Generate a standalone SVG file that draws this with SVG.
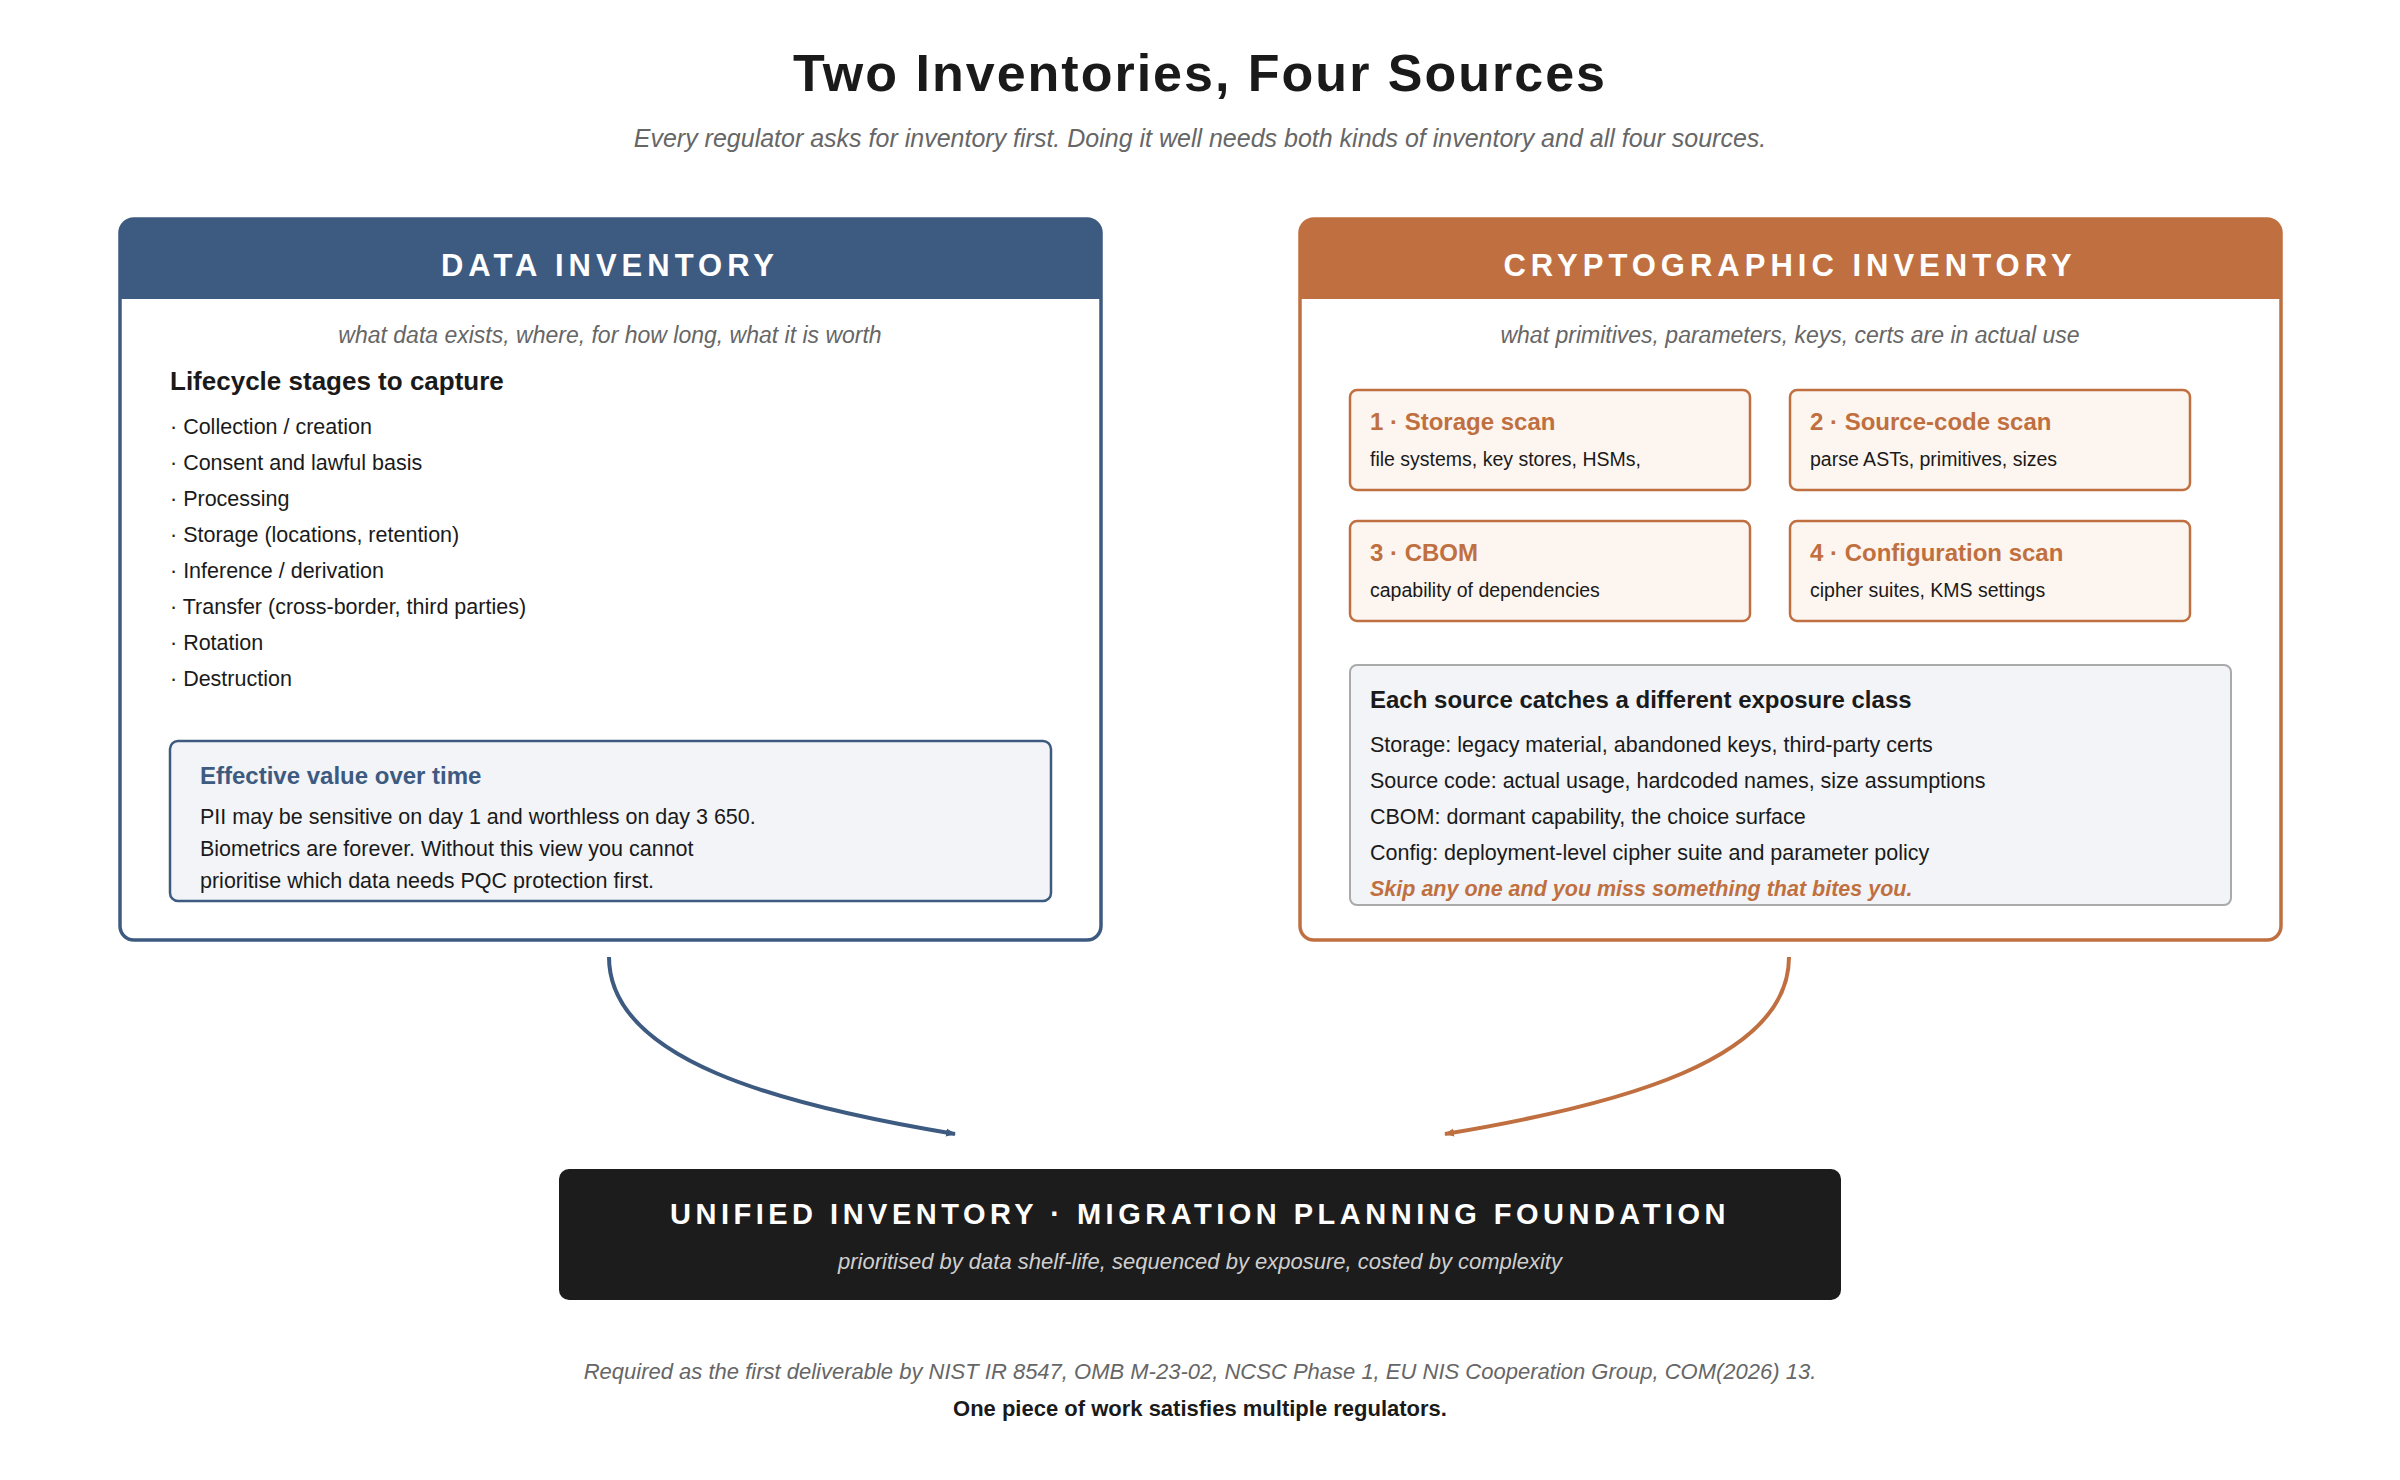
<svg xmlns="http://www.w3.org/2000/svg" width="2400" height="1480" viewBox="0 0 2400 1480">
<style>
text{font-family:"Liberation Sans",Arial,sans-serif}
.ti{font-size:52px;font-weight:bold;fill:#1a1a1a;letter-spacing:2px}
.sub{font-size:25px;font-style:italic;fill:#666}
.hd{font-size:31px;font-weight:bold;fill:#fff;letter-spacing:5px}
.psub{font-size:23px;font-style:italic;fill:#666}
.h2{font-size:26px;font-weight:bold;fill:#1a1a1a}
.li{font-size:21.5px;fill:#1a1a1a}
.bt{font-size:24px;font-weight:bold}
.st{font-size:19.5px;fill:#1a1a1a}
.srcbox{fill:#fdf5ef;stroke:#c07040;stroke-width:2.5}
.ln{fill:none;stroke-width:4}
</style>
<defs>
<marker id="ab" markerWidth="10" markerHeight="10" refX="9" refY="5" orient="auto" markerUnits="userSpaceOnUse" viewBox="0 0 10 10"><path d="M0,1 L10,5 L0,9 z" fill="#3d5a80"/></marker>
<marker id="ao" markerWidth="10" markerHeight="10" refX="9" refY="5" orient="auto" markerUnits="userSpaceOnUse" viewBox="0 0 10 10"><path d="M0,1 L10,5 L0,9 z" fill="#c07040"/></marker>
</defs>
<rect width="2400" height="1480" fill="#fff"/>
<text class="ti" x="1200" y="91" text-anchor="middle">Two Inventories, Four Sources</text>
<text class="sub" x="1200" y="147" text-anchor="middle">Every regulator asks for inventory first. Doing it well needs both kinds of inventory and all four sources.</text>

<g id="data-inventory">
<rect x="120" y="219" width="981" height="721" rx="14" fill="#fff" stroke="#3d5a80" stroke-width="3.5"/>
<path d="M120,299 V233 a14,14 0 0 1 14,-14 H1087 a14,14 0 0 1 14,14 V299 z" fill="#3d5a80"/>
<text class="hd" x="610" y="276" text-anchor="middle">DATA INVENTORY</text>
<text class="psub" x="610" y="343" text-anchor="middle">what data exists, where, for how long, what it is worth</text>
<text class="h2" x="170" y="390">Lifecycle stages to capture</text>
<text class="li" x="170" y="434">· Collection / creation</text>
<text class="li" x="170" y="470">· Consent and lawful basis</text>
<text class="li" x="170" y="506">· Processing</text>
<text class="li" x="170" y="542">· Storage (locations, retention)</text>
<text class="li" x="170" y="578">· Inference / derivation</text>
<text class="li" x="170" y="614">· Transfer (cross-border, third parties)</text>
<text class="li" x="170" y="650">· Rotation</text>
<text class="li" x="170" y="686">· Destruction</text>
</g>
<g id="effective-value">
<rect x="170" y="741" width="881" height="160" rx="8" fill="#f2f4f7" stroke="#3d5a80" stroke-width="2.5"/>
<text class="bt" x="200" y="784" fill="#3d5a80">Effective value over time</text>
<text class="li" x="200" y="824">PII may be sensitive on day 1 and worthless on day 3 650.</text>
<text class="li" x="200" y="856">Biometrics are forever. Without this view you cannot</text>
<text class="li" x="200" y="888">prioritise which data needs PQC protection first.</text>
</g>

<g id="crypto-inventory">
<rect x="1300" y="219" width="981" height="721" rx="14" fill="#fff" stroke="#c07040" stroke-width="3.5"/>
<path d="M1300,299 V233 a14,14 0 0 1 14,-14 H2267 a14,14 0 0 1 14,14 V299 z" fill="#c07040"/>
<text class="hd" x="1790" y="276" text-anchor="middle">CRYPTOGRAPHIC INVENTORY</text>
<text class="psub" x="1790" y="343" text-anchor="middle">what primitives, parameters, keys, certs are in actual use</text>
</g>
<g id="storage-scan">
<rect class="srcbox" x="1350" y="390" width="400" height="100" rx="7"/>
<text class="bt" x="1370" y="430" fill="#c07040">1 · Storage scan</text>
<text class="st" x="1370" y="466">file systems, key stores, HSMs,</text>
</g>
<g id="source-code-scan">
<rect class="srcbox" x="1790" y="390" width="400" height="100" rx="7"/>
<text class="bt" x="1810" y="430" fill="#c07040">2 · Source-code scan</text>
<text class="st" x="1810" y="466">parse ASTs, primitives, sizes</text>
</g>
<g id="cbom">
<rect class="srcbox" x="1350" y="521" width="400" height="100" rx="7"/>
<text class="bt" x="1370" y="561" fill="#c07040">3 · CBOM</text>
<text class="st" x="1370" y="597">capability of dependencies</text>
</g>
<g id="config-scan">
<rect class="srcbox" x="1790" y="521" width="400" height="100" rx="7"/>
<text class="bt" x="1810" y="561" fill="#c07040">4 · Configuration scan</text>
<text class="st" x="1810" y="597">cipher suites, KMS settings</text>
</g>
<g id="exposure">
<rect x="1350" y="665" width="881" height="240" rx="7" fill="#f2f4f7" stroke="#aaaaaa" stroke-width="2"/>
<text class="bt" x="1370" y="708" fill="#1a1a1a">Each source catches a different exposure class</text>
<text class="li" x="1370" y="752">Storage: legacy material, abandoned keys, third-party certs</text>
<text class="li" x="1370" y="788">Source code: actual usage, hardcoded names, size assumptions</text>
<text class="li" x="1370" y="824">CBOM: dormant capability, the choice surface</text>
<text class="li" x="1370" y="860">Config: deployment-level cipher suite and parameter policy</text>
<text x="1370" y="896" style="font-size:21.5px;font-weight:bold;font-style:italic;fill:#c07040">Skip any one and you miss something that bites you.</text>
</g>

<g id="connectors">
<path class="ln" stroke="#3d5a80" d="M609,957 C609,1060 780,1105 955,1134" marker-end="url(#ab)"/>
<path class="ln" stroke="#c07040" d="M1789,957 C1789,1060 1620,1105 1445,1134" marker-end="url(#ao)"/>
</g>

<g id="unified">
<rect x="559" y="1169" width="1282" height="131" rx="10" fill="#1c1c1c"/>
<text x="1200" y="1224" text-anchor="middle" style="font-size:29px;font-weight:bold;fill:#fff;letter-spacing:4.5px">UNIFIED INVENTORY · MIGRATION PLANNING FOUNDATION</text>
<text x="1200" y="1269" text-anchor="middle" style="font-size:22px;font-style:italic;fill:#cfcfcf">prioritised by data shelf-life, sequenced by exposure, costed by complexity</text>
</g>

<text x="1200" y="1379" text-anchor="middle" style="font-size:22px;font-style:italic;fill:#666">Required as the first deliverable by NIST IR 8547, OMB M-23-02, NCSC Phase 1, EU NIS Cooperation Group, COM(2026) 13.</text>
<text x="1200" y="1416" text-anchor="middle" style="font-size:22px;font-weight:bold;fill:#1a1a1a">One piece of work satisfies multiple regulators.</text>
</svg>
